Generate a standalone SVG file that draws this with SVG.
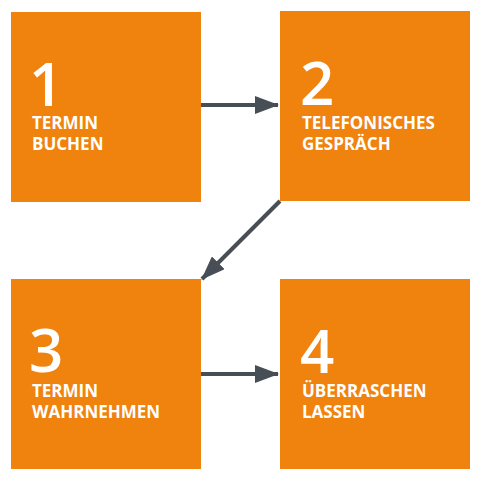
<svg xmlns="http://www.w3.org/2000/svg" width="480" height="480" viewBox="0 0 480 480">
<style>
.box{fill:#F0820E}
.num{font-family:"Open Sans","Noto Sans",sans-serif;font-size:60px;font-weight:600;fill:#fff}
.lbl{font-family:"Open Sans","Noto Sans",sans-serif;font-size:17px;font-weight:700;fill:#fff}
.conn{stroke:#474E56;stroke-width:4;fill:none}
</style>
<defs>
<marker id="ah" viewBox="0 0 24 18" refX="23" refY="9" markerWidth="24" markerHeight="18" markerUnits="userSpaceOnUse" orient="auto">
<path d="M0,0 L24,9 L0,18 Z" fill="#474E56"/>
</marker>
</defs>
<rect width="480" height="480" fill="#fff"/>
<g id="node1">
<rect class="box" x="11" y="12" width="190" height="190"/>
<text class="num" x="29" y="106">1</text>
<text class="lbl" x="32" y="129">TERMIN</text>
<text class="lbl" x="32" y="150">BUCHEN</text>
</g>
<g id="node2">
<rect class="box" x="280" y="11" width="190" height="190"/>
<text class="num" x="300" y="105">2</text>
<text class="lbl" x="302" y="129">TELEFONISCHES</text>
<text class="lbl" x="302" y="150">GESPRÄCH</text>
</g>
<g id="node3">
<rect class="box" x="11" y="279" width="190" height="190"/>
<text class="num" x="29" y="372">3</text>
<text class="lbl" x="32" y="397">TERMIN</text>
<text class="lbl" x="32" y="418">WAHRNEHMEN</text>
</g>
<g id="node4">
<rect class="box" x="280" y="279" width="190" height="190"/>
<text class="num" x="300" y="373">4</text>
<text class="lbl" x="302" y="397">ÜBERRASCHEN</text>
<text class="lbl" x="302" y="418">LASSEN</text>
</g>
<g id="connectors">
<line class="conn" x1="201" y1="105" x2="278" y2="105" marker-end="url(#ah)"/>
<line class="conn" x1="280" y1="201" x2="202" y2="279" marker-end="url(#ah)"/>
<line class="conn" x1="201" y1="374" x2="278" y2="374" marker-end="url(#ah)"/>
</g>
</svg>
